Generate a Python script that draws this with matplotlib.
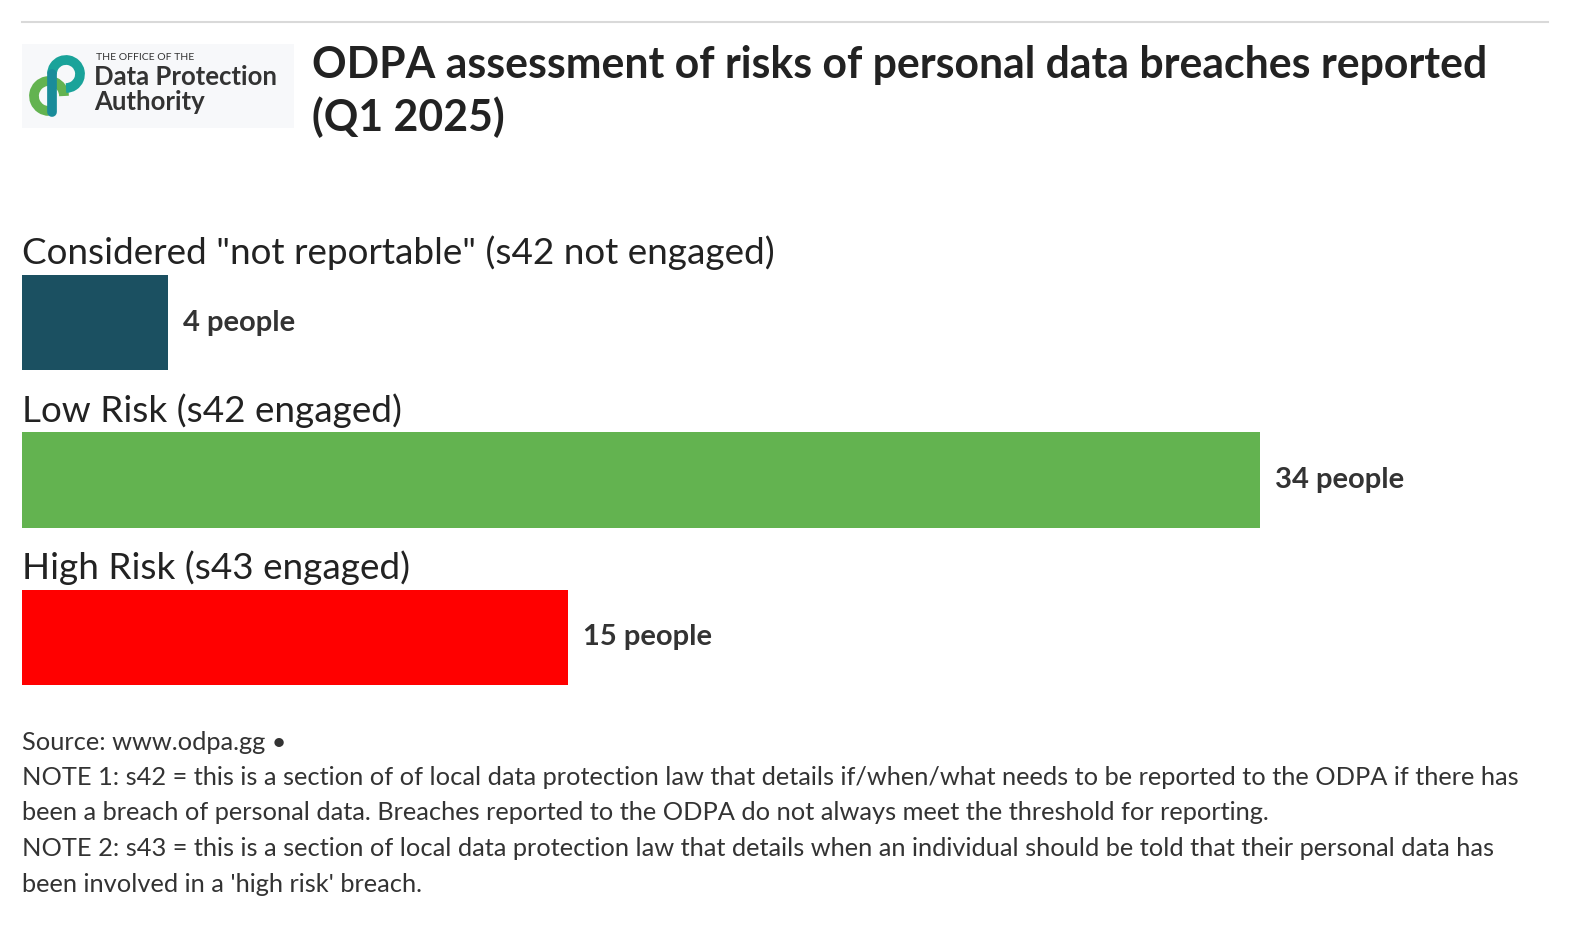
import matplotlib
matplotlib.use("Agg")
import matplotlib.pyplot as plt
from matplotlib.patches import Arc, Rectangle

categories = ['Considered "not reportable" (s42 not engaged)', 'Low Risk (s42 engaged)', 'High Risk (s43 engaged)']
values = [4, 34, 15]
colors = ['#1b5061', '#63b350', '#ff0000']
value_labels = ['4 people', '34 people', '15 people']

W, H = 1588, 932
fig = plt.figure(figsize=(W/100, H/100), dpi=100)
FONT = 'Lato'

def px(x, y):
    return x / W, 1 - y / H

# top rule
fig.add_artist(plt.Line2D([22/W, 1548/W], [1-22/H, 1-22/H], color='#d9d9d9', lw=1.5))

# logo (simplified)
lax = fig.add_axes([22/W, 1-128/H, 272/W, 84/H])
lax.set_xlim(0, 272); lax.set_ylim(84, 0); lax.axis('off')
lax.add_patch(Rectangle((0, 0), 272, 84, color='#f7f8fa'))
lax.add_patch(Arc((27, 52), 30, 30, theta1=90, theta2=360, lw=7, color='#63b350'))
lax.add_patch(Arc((44, 30), 28, 28, theta1=180, theta2=90, lw=7, color='#1aa39a'))
lax.plot([30, 30], [30, 68], color='#1a8c9a', lw=7, solid_capstyle='round')
lax.text(74, 14, 'THE OFFICE OF THE', fontsize=7.5, color='#333', family=FONT, va='center')
lax.text(72, 33, 'Data Protection', fontsize=18.5, color='#333', family=FONT, va='center', weight='bold')
lax.text(72, 58, 'Authority', fontsize=18.5, color='#333', family=FONT, va='center', weight='bold')

# title
fig.text(*px(312, 65), 'ODPA assessment of risks of personal data breaches reported', fontsize=30.8,
         weight='bold', family=FONT, color='#222', va='center')
fig.text(*px(312, 117), '(Q1 2025)', fontsize=30.8, weight='bold', family=FONT, color='#222', va='center')

# bars
ax = fig.add_axes([22/W, 1-685/H, (1260-22)/W, 410/H])
ypos = list(range(len(values)))
ax.barh(ypos, values, height=95/157, color=colors)
ax.set_xlim(0, 34)
ax.set_ylim(2 + 0.5*95/157, -0.5*95/157)
ax.axis('off')
for i, (v, c, lab) in enumerate(zip(values, categories, value_labels)):
    ax.text(0, i - 0.5*95/157 - 0.03, c, fontsize=26.6, family=FONT, color='#222', va='bottom', ha='left')
    ax.text(v + 0.42, i, lab, fontsize=21, family=FONT, weight='bold', color='#333', va='center', clip_on=False)

notes = ["Source: www.odpa.gg \u2022",
         "NOTE 1: s42 = this is a section of of local data protection law that details if/when/what needs to be reported to the ODPA if there has",
         "been a breach of personal data. Breaches reported to the ODPA do not always meet the threshold for reporting.",
         "NOTE 2: s43 = this is a section of local data protection law that details when an individual should be told that their personal data has",
         "been involved in a 'high risk' breach."]
for k, t in enumerate(notes):
    fig.text(*px(22, 742 + k*35.5), t, fontsize=18.3, family=FONT, color='#333', va='center')

fig.savefig('out.png', dpi=100, facecolor='white')
